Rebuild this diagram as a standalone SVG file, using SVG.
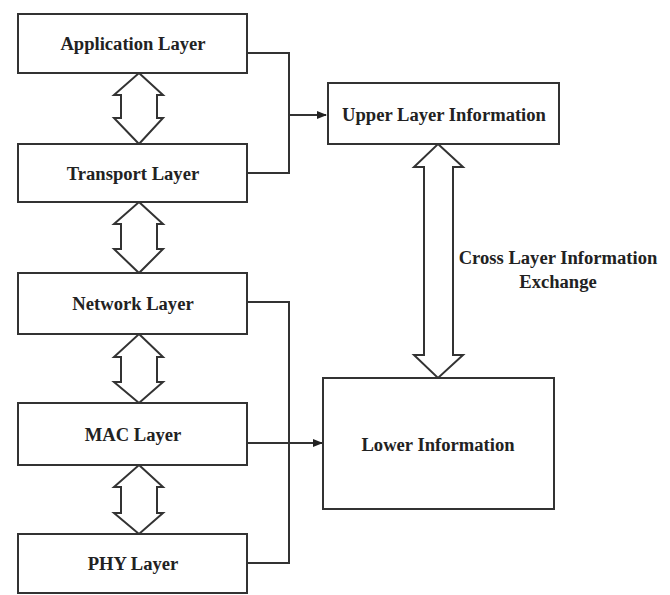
<svg xmlns="http://www.w3.org/2000/svg" width="670" height="595" viewBox="0 0 670 595">
<style>
.box{fill:#fff;stroke:#333;stroke-width:2}
.t{font-family:"Liberation Serif","Times New Roman",serif;font-size:18.6px;font-weight:bold;fill:#222;text-anchor:middle}
.c{fill:none;stroke:#333;stroke-width:2}
.da{fill:#fff;stroke:#333;stroke-width:2;stroke-linejoin:miter}
</style>
<defs>
<marker id="ah" markerWidth="10" markerHeight="8" refX="9" refY="4" orient="auto" markerUnits="userSpaceOnUse">
<path d="M0,0 L10,4 L0,8 Z" fill="#222"/>
</marker>
</defs>
<rect width="670" height="595" fill="#fff"/>
<g id="connectors">
<path class="c" d="M247,53 H289 V173 H247"/>
<path class="c" d="M289,115 H326" marker-end="url(#ah)"/>
<path class="c" d="M247,302 H289 V563 H247"/>
<path class="c" d="M247,443 H322" marker-end="url(#ah)"/>
<path class="da" d="M139,73 L163,95 L157,95 L157,118 L163,118 L139,144 L114,118 L121,118 L121,95 L114,95 Z"/>
<path class="da" d="M139,202 L163,224 L157,224 L157,249 L163,249 L139,273 L114,249 L121,249 L121,224 L114,224 Z"/>
<path class="da" d="M139,334 L163,357 L157,357 L157,382 L163,382 L139,403 L114,382 L121,382 L121,357 L114,357 Z"/>
<path class="da" d="M139,465 L163,487 L157,487 L157,513 L163,513 L139,534 L114,513 L121,513 L121,487 L114,487 Z"/>
<path class="da" d="M438,144 L463,167 L453,167 L453,355 L463,355 L438,378 L414,355 L424,355 L424,167 L414,167 Z"/>
</g>
<g id="app"><rect class="box" x="18" y="14" width="229" height="59"/><text class="t" x="133" y="50">Application Layer</text></g>
<g id="transport"><rect class="box" x="18" y="144" width="229" height="58"/><text class="t" x="133" y="180">Transport Layer</text></g>
<g id="network"><rect class="box" x="18" y="273" width="229" height="61"/><text class="t" x="133" y="310">Network Layer</text></g>
<g id="mac"><rect class="box" x="18" y="403" width="229" height="62"/><text class="t" x="133" y="441">MAC Layer</text></g>
<g id="phy"><rect class="box" x="18" y="534" width="229" height="59"/><text class="t" x="133" y="570">PHY Layer</text></g>
<g id="upper"><rect class="box" x="328" y="83" width="231" height="61"/><text class="t" x="444" y="121">Upper Layer Information</text></g>
<g id="lower"><rect class="box" x="323" y="378" width="231" height="131"/><text class="t" x="438" y="451">Lower Information</text></g>
<g id="label"><text class="t" x="558" y="264">Cross Layer Information</text><text class="t" x="558" y="288">Exchange</text></g>
</svg>
